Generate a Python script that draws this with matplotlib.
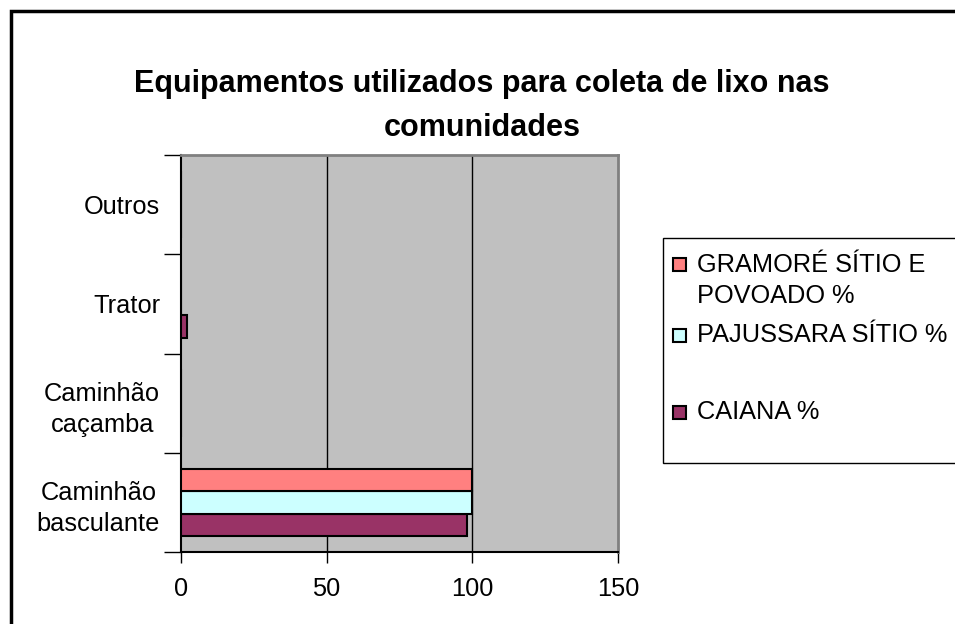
import matplotlib
matplotlib.use("Agg")
import matplotlib.pyplot as plt
import matplotlib.patches as patches
import numpy as np

plt.rcParams['font.family'] = ['Liberation Sans', 'DejaVu Sans']

categories = ['Caminhão\nbasculante', 'Caminhão\ncaçamba', 'Trator', 'Outros']
series_names = ['CAIANA %', 'PAJUSSARA SÍTIO %', 'GRAMORÉ SÍTIO E\nPOVOADO %']
caiana = [98, 0, 2, 0]
pajussara = [100, 0, 0, 0]
gramore = [100, 0, 0, 0]
x_ticks = [0, 50, 100, 150]
title = 'Equipamentos utilizados para coleta de lixo nas\ncomunidades'

colors = ['#993366', '#CCFFFF', '#FF8080']
W, H = 955, 624

fig = plt.figure(figsize=(W / 100, H / 100), dpi=100)
ax = fig.add_axes([181 / W, 1 - 552 / H, (618 - 181) / W, (552 - 155) / H])
ax.set_facecolor('#C0C0C0')

y = np.arange(len(categories))
bh = 0.227
for i, (vals, col) in enumerate(zip([caiana, pajussara, gramore], colors)):
    ax.barh(y + (i - 1) * bh, vals, height=bh, color=col, edgecolor='black',
            linewidth=1.5, zorder=3)

ax.set_xlim(0, 150)
ax.set_ylim(-0.5, len(categories) - 0.5)
for v in x_ticks[1:-1]:
    ax.axvline(v, color='black', lw=1, zorder=1)

ax.set_xticks(x_ticks)
ax.tick_params(axis='x', direction='out', length=8, width=1, pad=10, labelsize=18.3)
ax.set_yticks(np.arange(-0.5, len(categories)), minor=False)
ax.set_yticklabels([])
ax.set_yticks(y, minor=True)
ax.set_yticklabels(categories, minor=True)
ax.tick_params(axis='y', which='major', direction='out', length=12, width=1)
ax.tick_params(axis='y', which='minor', length=0, pad=15, labelsize=18.3)
for lab in ax.get_yticklabels(minor=True):
    lab.set_multialignment('center')
    lab.set_linespacing(1.4)

for s in ['left', 'bottom']:
    ax.spines[s].set_color('black')
    ax.spines[s].set_linewidth(1.5)
for s in ['top', 'right']:
    ax.spines[s].set_color('#808080')
    ax.spines[s].set_linewidth(2)

fig.text(482 / W, 1 - 106 / H, title, ha='center', va='center', fontsize=22,
         fontweight='bold', linespacing=1.6)

# outer chart border (only left and top visible)
fig.patches.append(patches.Rectangle((11 / W, -0.1), 1.2, 1 - 11 / H + 0.1,
                                     transform=fig.transFigure, fill=False,
                                     edgecolor='black', lw=2.5, clip_on=False))

# legend box
fig.patches.append(patches.Rectangle((663 / W, 1 - 463 / H), 1.0, (463 - 238) / H,
                                     transform=fig.transFigure, facecolor='white',
                                     edgecolor='black', lw=1, clip_on=False))
legend_rows = [(2, 264, 280.5), (1, 335, 335), (0, 412, 412)]
for idx, my, ty in legend_rows:
    fig.patches.append(patches.Rectangle((673 / W, 1 - (my + 6.5) / H), 13 / W, 13 / H,
                                         transform=fig.transFigure, facecolor=colors[idx],
                                         edgecolor='black', lw=1.5))
    fig.text(697 / W, 1 - ty / H, series_names[idx], ha='left', va='center',
             fontsize=18.3, linespacing=1.35)

fig.savefig('out.png', dpi=100)
